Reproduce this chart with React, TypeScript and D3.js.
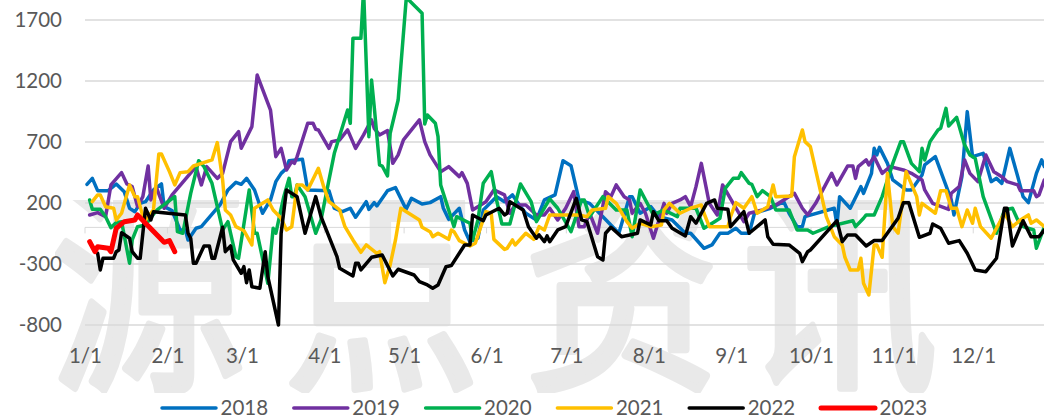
import React from "react";
import * as d3 from "d3";

const W = 1044;
const H = 419;

// [day of year (0 = 1/1), value]
const s2018 = [[0,353],[2,402],[4,301],[8,301],[11,356],[14,293],[16,157],[18,129],[20,197],[22,211],[25,307],[28,356],[29,170],[32,137],[35,-21],[37,-21],[38,-103],[41,-7],[43,6],[50,184],[53,307],[56,370],[58,353],[60,402],[63,307],[66,116],[69,225],[71,375],[73,443],[75,484],[76,547],[81,558],[83,307],[91,301],[93,157],[96,129],[99,157],[101,83],[105,211],[106,148],[108,203],[109,176],[113,301],[116,326],[120,148],[122,238],[126,192],[129,203],[133,252],[134,157],[136,66],[140,157],[142,-21],[144,-117],[147,-89],[149,143],[154,252],[157,211],[160,266],[163,170],[165,116],[169,61],[172,225],[176,266],[179,547],[182,506],[185,225],[189,197],[194,88],[200,-48],[204,252],[205,252],[208,116],[212,170],[215,88],[220,61],[225,-48],[227,-48],[232,-171],[235,-144],[238,-48],[241,-48],[244,-7],[246,-48],[249,-48],[251,116],[257,157],[262,211],[264,116],[267,6],[269,6],[270,88],[281,157],[282,20],[283,252],[287,157],[291,334],[292,279],[295,443],[296,648],[297,594],[298,656],[301,525],[303,389],[308,307],[310,307],[314,430],[315,512],[319,580],[325,225],[326,102],[329,416],[331,949],[333,580],[337,607],[340,375],[342,402],[344,361],[347,648],[350,416],[352,252],[354,203],[357,443],[359,553],[360,498]];

const s2019 = [[1,102],[4,121],[7,88],[9,348],[13,449],[15,356],[17,334],[19,170],[21,252],[23,503],[24,225],[26,334],[29,157],[32,266],[41,498],[43,348],[45,498],[49,402],[51,443],[54,703],[57,785],[58,648],[62,826],[64,1249],[69,962],[71,580],[73,648],[75,471],[77,539],[78,525],[79,580],[83,853],[85,853],[86,804],[87,799],[91,648],[92,703],[95,717],[98,799],[101,648],[104,758],[107,881],[108,812],[110,758],[113,793],[115,525],[117,594],[119,717],[125,881],[127,703],[129,594],[133,457],[136,498],[140,416],[141,449],[143,361],[145,143],[150,211],[153,307],[157,266],[159,116],[161,184],[165,184],[169,102],[172,102],[174,157],[177,61],[180,157],[183,293],[185,6],[187,6],[189,116],[192,-48],[195,293],[197,252],[199,348],[202,252],[204,225],[205,116],[208,197],[210,116],[213,-89],[217,197],[218,116],[220,197],[223,225],[225,252],[227,170],[229,334],[231,525],[232,416],[234,197],[237,102],[239,348],[243,197],[247,47],[249,116],[254,143],[259,184],[262,225],[266,280],[267,238],[269,157],[271,102],[274,197],[280,443],[282,348],[286,503],[288,503],[289,402],[290,498],[293,553],[294,512],[296,580],[299,443],[302,498],[307,471],[310,443],[314,389],[315,307],[318,197],[324,148],[325,280],[328,334],[330,553],[332,443],[335,375],[338,594],[341,457],[344,416],[346,375],[350,348],[351,301],[356,301],[357,252],[358,266],[360,389]];

const s2020 = [[1,225],[2,148],[5,148],[7,88],[9,-2],[11,39],[13,47],[16,-294],[17,-103],[19,6],[22,20],[26,137],[33,252],[34,-35],[36,-48],[39,279],[42,547],[44,498],[47,361],[51,-21],[53,47],[56,-240],[57,-253],[61,307],[63,-48],[64,-48],[68,-458],[70,-7],[71,-48],[74,252],[76,402],[77,252],[78,252],[79,348],[82,252],[86,-48],[88,61],[91,389],[93,607],[98,962],[99,853],[100,1550],[103,1550],[104,1950],[106,744],[107,1208],[108,990],[110,512],[111,503],[113,422],[114,771],[117,1044],[118,1318],[120,1864],[121,1864],[126,1755],[127,848],[128,921],[131,853],[132,744],[133,348],[138,6],[139,88],[144,34],[145,-103],[147,61],[149,361],[152,457],[154,225],[156,28],[159,28],[163,356],[167,211],[169,47],[174,233],[177,157],[182,-35],[186,225],[187,225],[189,88],[194,252],[199,143],[203,143],[205,-76],[208,307],[213,102],[217,143],[222,88],[223,157],[227,157],[229,157],[232,-7],[236,47],[238,75],[240,320],[243,402],[245,402],[246,449],[249,361],[250,353],[252,252],[254,301],[257,252],[259,143],[264,143],[267,-21],[271,-21],[273,-48],[279,6],[288,55],[289,6],[292,75],[293,102],[296,102],[299,252],[303,525],[306,703],[307,703],[310,525],[313,457],[314,648],[315,553],[317,703],[320,799],[321,812],[323,976],[324,831],[327,902],[330,676],[332,594],[334,566],[337,252],[342,-48],[345,143],[348,157],[350,61],[352,6],[356,-21],[357,-171],[360,6]];

const s2021 = [[2,211],[4,266],[5,266],[7,170],[10,157],[11,61],[13,116],[16,348],[18,252],[19,252],[21,88],[22,61],[25,143],[27,602],[28,602],[31,457],[33,348],[35,449],[38,457],[40,503],[47,553],[49,695],[51,389],[52,143],[54,102],[56,6],[59,-27],[62,-144],[63,157],[66,197],[68,225],[70,143],[73,75],[75,-21],[77,6],[79,348],[81,348],[83,307],[87,484],[89,334],[91,211],[95,143],[97,6],[100,-103],[103,-204],[105,-144],[109,-212],[110,-199],[112,-453],[114,-308],[116,-103],[118,157],[125,61],[126,1],[129,-35],[130,-76],[132,-48],[136,-98],[137,-21],[138,-35],[140,-108],[144,-152],[146,-130],[150,129],[152,116],[153,-98],[157,-180],[158,-171],[160,-103],[161,-144],[165,-48],[168,-98],[170,6],[172,-21],[174,102],[182,102],[185,102],[188,88],[190,143],[195,157],[196,252],[199,197],[203,47],[205,-7],[208,34],[212,6],[216,20],[217,143],[219,197],[223,116],[227,157],[231,184],[232,116],[234,6],[241,6],[242,88],[244,203],[247,157],[250,252],[252,116],[256,170],[258,348],[259,252],[265,258],[266,580],[269,799],[270,703],[272,662],[275,375],[278,88],[281,-76],[284,-144],[285,-245],[287,-349],[290,-349],[291,-253],[292,-458],[294,-554],[296,-144],[297,-144],[299,-245],[301,443],[303,6],[305,-48],[306,116],[308,457],[312,252],[313,102],[314,197],[319,116],[321,301],[323,301],[325,157],[327,157],[329,6],[331,143],[333,34],[334,157],[336,6],[340,-89],[343,34],[345,116],[348,6],[351,61],[354,102],[355,34],[357,61],[360,6]];

const s2022 = [[4,-212],[5,-349],[6,-253],[10,-253],[11,-199],[12,-185],[13,-43],[16,-89],[17,-199],[19,-253],[20,-253],[22,157],[24,61],[25,129],[37,102],[38,-48],[39,-89],[40,-294],[41,-294],[44,-152],[46,-152],[47,-253],[48,-253],[51,1],[52,-199],[54,-152],[55,-267],[58,-376],[59,-322],[60,-453],[61,-349],[62,-486],[65,-499],[67,-199],[68,-404],[72,-800],[73,-48],[75,307],[79,252],[82,-48],[86,252],[88,88],[94,-240],[95,-335],[100,-398],[101,-294],[102,-294],[103,-349],[107,-245],[111,-226],[115,-398],[117,-343],[123,-390],[125,-445],[128,-472],[130,-499],[132,-472],[135,-322],[137,-313],[142,-144],[144,-144],[145,102],[149,55],[150,102],[155,157],[157,102],[158,116],[159,211],[164,143],[166,6],[169,-89],[170,-62],[172,-117],[173,-70],[174,-117],[177,-21],[180,6],[184,238],[186,61],[188,47],[192,-240],[194,-267],[195,-48],[197,1],[201,-76],[207,-48],[208,61],[212,20],[213,129],[215,55],[218,55],[220,-7],[225,-70],[227,88],[229,34],[233,197],[236,225],[237,157],[241,148],[242,6],[247,129],[249,-48],[255,61],[256,-76],[258,-139],[264,-144],[268,-212],[269,-281],[271,-199],[272,-185],[282,55],[284,-117],[286,-62],[289,-62],[293,-152],[296,-108],[299,-108],[305,75],[307,203],[309,203],[313,-81],[317,-48],[318,28],[321,-7],[324,-130],[328,-108],[331,-212],[334,-349],[338,-363],[342,-253],[345,157],[346,157],[348,-152],[352,55],[355,-76],[358,-76],[360,-21]];

const s2023 = [[1,-117],[3,-199],[4,-158],[8,-171],[9,-199],[11,-7],[14,47],[18,61],[19,102],[29,-122],[31,-108],[33,-199]];

const years = ["2018", "2019", "2020", "2021", "2022", "2023"];
const colors = ["#0070C0", "#7030A0", "#00B050", "#FFC000", "#000000", "#FF0000"];
const seriesList = [s2018, s2019, s2020, s2021, s2022, s2023];
const yTicks = [1700, 1200, 700, 200, -300, -800];
const monthLabels = ["1/1", "2/1", "3/1", "4/1", "5/1", "6/1", "7/1", "8/1", "9/1", "10/1", "11/1", "12/1"];
const monthDays = [0, 31, 59, 90, 120, 151, 181, 212, 243, 273, 304, 334];
const watermark = ["源", "点", "资", "讯"];
const watermarkX = [148, 382, 622, 840];

export default function App() {
  const x = d3.scaleLinear().domain([0, 364]).range([87, 1055]);
  const y = d3.scaleLinear().domain([-800, 1700]).range([325, 20]);
  const line = d3
    .line<number[]>()
    .x((d) => x(d[0]))
    .y((d) => y(d[1]))
    .curve(d3.curveLinear);
  const font = "Lato, 'Open Sans', sans-serif";
  return (
    <svg
      width={W}
      height={H}
      viewBox={`0 0 ${W} ${H}`}
      style={{ position: "absolute", left: 0, top: 0, background: "#fff" }}
    >
      <defs>
        <clipPath id="wm">
          <rect x={55} y={200} width={900} height={193} />
        </clipPath>
      </defs>
      <g clipPath="url(#wm)">
        <g
          fontFamily="'Noto Sans CJK SC'"
          fontWeight={400}
          fontSize={232}
          fill="#e9e9e9"
          stroke="#e9e9e9"
          strokeWidth={8}
          strokeLinejoin="round"
          textAnchor="middle"
        >
          {watermark.map((c, i) => (
            <text key={c} transform={`translate(${watermarkX[i]},372) scale(0.84,1)`}>
              {c}
            </text>
          ))}
        </g>
      </g>
      <g>
        {yTicks.map((t) => (
          <line key={t} x1={85} x2={W} y1={y(t)} y2={y(t)} stroke="#d9d9d9" strokeWidth={1.5} />
        ))}
        <line x1={85} x2={W} y1={y(0)} y2={y(0)} stroke="#d9d9d9" strokeWidth={1} />
        {monthDays.map((d) => (
          <line key={d} x1={x(d) - 2} x2={x(d) - 2} y1={y(0)} y2={y(0) + 6} stroke="#d9d9d9" strokeWidth={1} />
        ))}
      </g>
      <g fontFamily={font} fontSize={20.5} fill="#595959">
        {yTicks.map((t) => (
          <text key={t} x={62} y={y(t) + 7} textAnchor="end">
            {t}
          </text>
        ))}
        {monthLabels.map((m, i) => (
          <text key={m} x={x(monthDays[i]) - 1.5} y={363} textAnchor="middle">
            {m}
          </text>
        ))}
      </g>
      <g fill="none" strokeLinejoin="round" strokeLinecap="round">
        {seriesList.map((s, i) => (
          <path
            key={years[i]}
            d={line(s) ?? ""}
            stroke={colors[i]}
            strokeWidth={i === 5 ? 5 : 3.5}
          />
        ))}
      </g>
      <g fontFamily={font} fontSize={20.5} fill="#595959">
        {years.map((yr, i) => {
          const lx = 162 + i * 131.8;
          return (
            <g key={yr}>
              <line x1={lx} x2={lx + 54} y1={408} y2={408} stroke={colors[i]} strokeWidth={i === 5 ? 5 : 3.5} strokeLinecap="round" />
              <text x={lx + 58.5} y={415}>
                {yr}
              </text>
            </g>
          );
        })}
      </g>
    </svg>
  );
}
